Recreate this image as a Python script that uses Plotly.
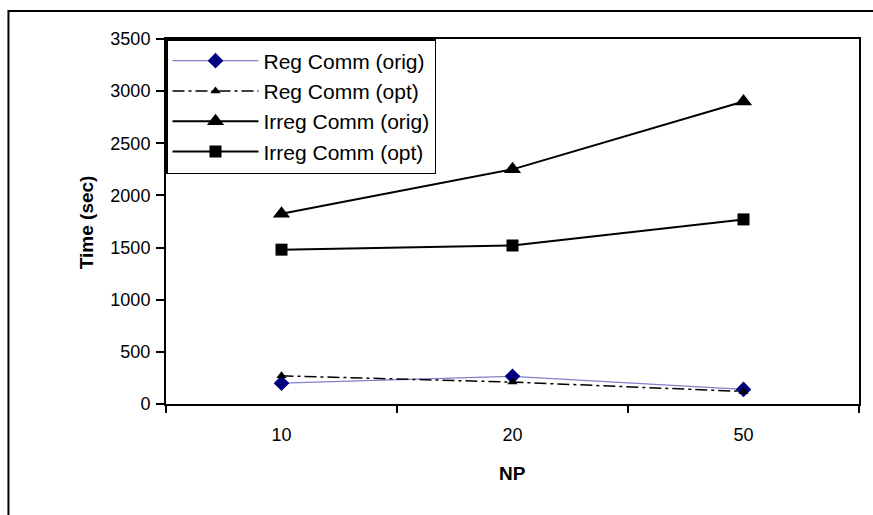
import plotly.graph_objects as go

categories = ["10", "20", "50"]
reg_orig = [200, 265, 140]
reg_opt = [270, 210, 120]
irreg_orig = [1825, 2250, 2900]
irreg_opt = [1480, 1520, 1770]

FONT = "Liberation Sans, Arial, sans-serif"

fig = go.Figure()
fig.add_trace(go.Scatter(
    x=categories, y=reg_orig, name="Reg Comm (orig)", mode="lines+markers",
    line=dict(color="#8080cc", width=1.3),
    marker=dict(symbol="diamond", size=12, color="#000080")))
fig.add_trace(go.Scatter(
    x=categories, y=reg_opt, name="Reg Comm (opt)", mode="lines+markers",
    line=dict(color="black", width=1.5, dash="12px,4px,3px,4px"),
    marker=dict(symbol="triangle-up", size=9, color="black")))
fig.add_trace(go.Scatter(
    x=categories, y=irreg_orig, name="Irreg Comm (orig)", mode="lines+markers",
    line=dict(color="black", width=2),
    marker=dict(symbol="triangle-up", size=15, color="black")))
fig.add_trace(go.Scatter(
    x=categories, y=irreg_opt, name="Irreg Comm (opt)", mode="lines+markers",
    line=dict(color="black", width=2),
    marker=dict(symbol="square", size=12, color="black")))

L, R, T, B = 166, 12, 39, 111
W, H = 873, 515
pw = W - L - R
ph = H - T - B

def px_x(x):
    return (x - L) / pw

def px_y(y):
    return (H - B - y) / ph

fig.update_layout(
    width=W, height=H,
    margin=dict(l=L, r=R, t=T, b=B),
    paper_bgcolor="white", plot_bgcolor="white",
    font=dict(family=FONT, size=18, color="black"),
    showlegend=True,
    legend=dict(x=0, y=1, xanchor="left", yanchor="top",
                bordercolor="black", borderwidth=1.5, bgcolor="white",
                font=dict(size=21, family=FONT), itemwidth=86,
                tracegroupgap=0),
    xaxis=dict(type="category", range=[-0.5, 2.5], showgrid=False,
               showline=True, linecolor="black",
               linewidth=2, mirror=True, ticks="outside", ticklen=7,
               tickcolor="black", tickwidth=2, tickson="boundaries",
               ticklabelstandoff=13, tickfont=dict(size=18)),
    yaxis=dict(range=[0, 3500], dtick=500, showgrid=False, showline=True,
               linecolor="black", linewidth=2, mirror=True, ticks="outside",
               ticklen=8, tickcolor="black", tickwidth=2, zeroline=False,
               ticklabelstandoff=2, tickfont=dict(size=18)),
    annotations=[
        dict(text="<b>Time (sec)</b>", xref="paper", yref="paper",
             x=px_x(86), y=px_y(222), textangle=-90, showarrow=False,
             font=dict(size=19, family=FONT), xanchor="center", yanchor="middle"),
        dict(text="<b>NP</b>", xref="paper", yref="paper",
             x=px_x(514), y=px_y(474), showarrow=False,
             font=dict(size=19, family=FONT), xanchor="center", yanchor="middle"),
    ],
    shapes=[dict(type="rect", xref="paper", yref="paper",
                 x0=px_x(8), x1=px_x(880), y0=px_y(525), y1=px_y(11),
                 line=dict(color="black", width=2), layer="below")],
)

fig.write_html("out.html")
